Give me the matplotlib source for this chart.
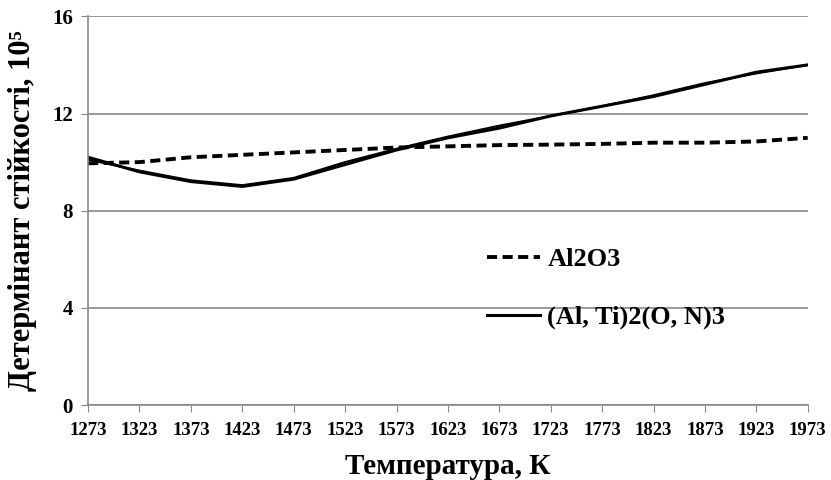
import matplotlib.pyplot as plt
import numpy as np

plt.rcParams['font.family'] = ['Liberation Serif', 'DejaVu Serif']
plt.rcParams['font.weight'] = 'bold'

# температура, К
temps = [1273, 1323, 1373, 1423, 1473, 1523, 1573, 1623, 1673, 1723, 1773, 1823, 1873, 1923, 1973]
# детермінант стійкості
al2o3 = [9.95, 10.0, 10.2, 10.3, 10.4, 10.5, 10.6, 10.65, 10.7, 10.72, 10.75, 10.8, 10.8, 10.85, 11.0]
alti_1 = [10.2, 9.6, 9.2, 9.0, 9.3, 9.9, 10.5, 11.0, 11.4, 11.9, 12.3, 12.7, 13.2, 13.7, 14.0]
alti_2 = [10.1, 9.65, 9.25, 9.05, 9.35, 10.0, 10.55, 11.05, 11.5, 11.9, 12.3, 12.75, 13.25, 13.65, 14.0]

fig = plt.figure(figsize=(8.31, 4.8), dpi=100)
ax = fig.add_axes([0.106, 0.156, 0.866, 0.81])

x = np.arange(len(temps))
ax.plot(x, al2o3, color='black', lw=2.8, ls=(0, (2.6, 1.4)), label='Al2O3')
ax.plot(x, alti_1, color='black', lw=2.2, label='(Al, Ti)2(O, N)3')
ax.plot(x, alti_2, color='black', lw=1.5)

ax.set_xlim(0, len(temps) - 1)
ax.set_ylim(0, 16)
ax.set_xticks(x)
ax.set_xticklabels([str(t) for t in temps], fontsize=13.5, fontweight='bold')
ax.set_yticks([0, 4, 8, 12, 16])
ax.tick_params(axis='y', labelsize=15, length=5, color='#888888', pad=6)
ax.tick_params(axis='x', length=5, color='#888888', pad=7)
ax.grid(axis='y', color='#888888', lw=1.2)
ax.set_axisbelow(True)
for s in ['top', 'right']:
    ax.spines[s].set_visible(False)
for s in ['left', 'bottom']:
    ax.spines[s].set_color('#888888')
    ax.spines[s].set_linewidth(1.2)

ax.set_xlabel('Температура, К', fontsize=21, fontweight='bold', labelpad=10)
ax.set_ylabel('Детермінант стійкості, 10⁵', fontsize=22, fontweight='bold', labelpad=11)

leg = ax.legend(loc='upper left', bbox_to_anchor=(0.554, 0.405), frameon=False,
                fontsize=19, handlelength=2.0, handletextpad=0.3,
                labelspacing=1.3, borderpad=0, borderaxespad=0)
for t in leg.get_texts():
    t.set_fontfamily(['Liberation Serif', 'DejaVu Serif'])
    t.set_fontweight('bold')

fig.savefig('out.png', dpi=100)
